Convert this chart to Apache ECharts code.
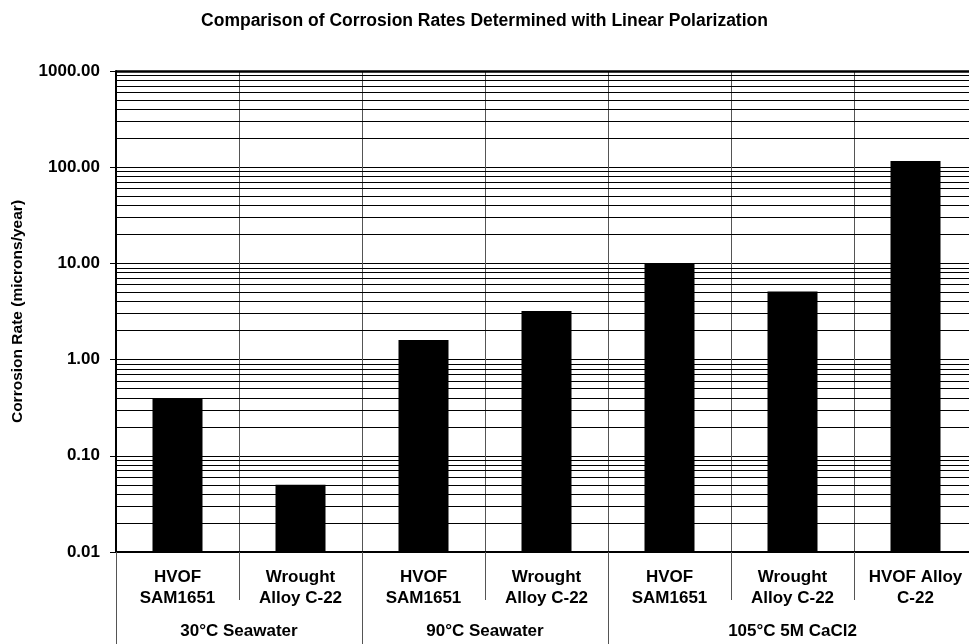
<!DOCTYPE html>
<html>
<head>
<meta charset="utf-8">
<script src="https://cdn.jsdelivr.net/npm/echarts@6/dist/echarts.min.js"></script>
<style>
  html, body { margin: 0; padding: 0; background: #fff; }
  #chart { width: 969px; height: 644px; }
</style>
</head>
<body>
<div id="chart"></div>
<script>
// Materials tested (one bar each), grouped by test environment
const categories = [
  'HVOF\nSAM1651', 'Wrought\nAlloy C-22',
  'HVOF\nSAM1651', 'Wrought\nAlloy C-22',
  'HVOF\nSAM1651', 'Wrought\nAlloy C-22', 'HVOF Alloy\nC-22'
];
// Corrosion rate in microns/year
const corrosionRates = [0.40, 0.05, 1.6, 3.2, 10.0, 5.1, 116];

// Environment groups: label, first category index, category count
const groupNames = ['30°C Seawater', '90°C Seawater', '105°C 5M CaCl2'];
const groupStarts = [0, 2, 4];
const groupSizes = [2, 2, 3];

// Log axis range and decade tick labels
const yMin = 0.01;
const yMax = 1000;
const decades = [0.01, 0.1, 1, 10, 100, 1000];
const minorMultipliers = [2, 3, 4, 5, 6, 7, 8, 9];

const FONT = '"Liberation Sans", Arial, sans-serif';

// Minor gridlines inside each decade (2x..9x)
const minorLines = [];
decades.slice(0, -1).forEach(d => {
  minorMultipliers.forEach(m => minorLines.push({ yAxis: +(d * m).toPrecision(3) }));
});

const groupBounds = [0];
groupStarts.forEach((s, i) => groupBounds.push(s + groupSizes[i]));
const groupCenters = groupStarts.map((s, i) => s + groupSizes[i] / 2);

const chart = echarts.init(document.getElementById('chart'), null, { renderer: 'canvas' });

chart.setOption({
  animation: false,
  backgroundColor: '#ffffff',
  title: {
    text: 'Comparison of Corrosion Rates Determined with Linear Polarization',
    left: 'center',
    top: 7,
    textStyle: { fontFamily: FONT, fontSize: 17.5, fontWeight: 'bold', color: '#000' }
  },
  grid: { left: 116, top: 71, width: 861, height: 481, containLabel: false, outerBoundsMode: 'none' },
  xAxis: [
    {
      type: 'category',
      data: categories,
      boundaryGap: true,
      axisLine: { show: true, lineStyle: { color: '#000', width: 2 } },
      axisTick: { show: true, length: 48, alignWithLabel: false, interval: 0,
                  lineStyle: { color: '#555', width: 1 } },
      splitLine: { show: true, interval: 0, lineStyle: { color: '#555', width: 1 } },
      axisLabel: {
        interval: 0, margin: 15,
        fontFamily: FONT, fontSize: 17, fontWeight: 'bold', color: '#000', lineHeight: 21
      }
    },
    {
      type: 'value',
      position: 'bottom',
      min: 0,
      max: 7,
      axisLine: { show: false },
      splitLine: { show: false },
      axisTick: { show: true, length: 100, customValues: groupBounds,
                  lineStyle: { color: '#555', width: 1 } },
      axisLabel: {
        customValues: groupCenters, margin: 71,
        formatter: v => groupNames[groupCenters.indexOf(v)] || '',
        fontFamily: FONT, fontSize: 17, fontWeight: 'bold', color: '#000'
      }
    }
  ],
  yAxis: {
    type: 'log',
    logBase: 10,
    min: yMin,
    max: yMax,
    name: 'Corrosion Rate (microns/year)',
    nameLocation: 'middle',
    nameGap: 90,
    nameTextStyle: { fontFamily: FONT, fontSize: 15.5, fontWeight: 'bold', color: '#000' },
    axisLine: { show: true, lineStyle: { color: '#000', width: 2 } },
    axisTick: { show: true, length: 6, lineStyle: { color: '#000', width: 1 } },
    splitLine: { show: true, lineStyle: { color: '#000', width: 1 } },
    axisLabel: {
      margin: 16,
      formatter: v => Number(v).toFixed(2),
      fontFamily: FONT, fontSize: 17, fontWeight: 'bold', color: '#000'
    }
  },
  series: [
    {
      type: 'line',
      data: [],
      silent: true,
      markLine: {
        silent: true,
        symbol: 'none',
        label: { show: false },
        lineStyle: { color: '#000', width: 1, type: 'solid' },
        data: minorLines.concat([{ yAxis: yMax, lineStyle: { width: 2.5 } }])
      }
    },
    {
      // Bars rise from the bottom of the log axis up to each value
      type: 'custom',
      data: corrosionRates.map((v, i) => [i, v]),
      encode: { x: 0, y: 1 },
      z: 5,
      renderItem: (params, api) => {
        const i = api.value(0);
        const top = api.coord([i, api.value(1)]);
        const base = api.coord([i, yMin]);
        const w = 50;
        return {
          type: 'rect',
          shape: { x: top[0] - w / 2, y: top[1], width: w, height: base[1] - top[1] },
          style: { fill: '#000' }
        };
      }
    }
  ]
});
</script>
</body>
</html>
